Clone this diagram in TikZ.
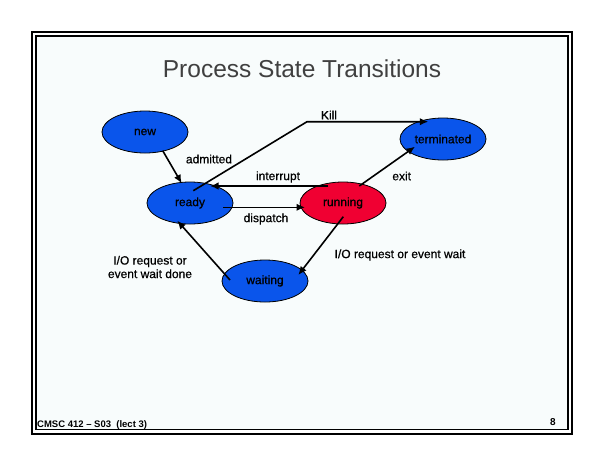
\documentclass[tikz,border=0pt]{standalone}
\usepackage{fontspec}
\setmainfont{Liberation Sans}
\newfontfamily\lblfont[FakeBold=0.6]{Liberation Sans}
\usetikzlibrary{shapes.geometric,arrows.meta}
\definecolor{stblue}{RGB}{10,85,235}
\definecolor{stred}{RGB}{240,0,50}
\definecolor{slidebg}{RGB}{248,252,252}
\definecolor{titlegray}{RGB}{64,64,64}
\begin{document}
\begin{tikzpicture}[x=1pt,y=-1pt,
  state/.style={ellipse,draw=black,line width=0.8pt,minimum width=86pt,minimum height=42pt,inner sep=0pt,text=black,font=\lblfont\fontsize{12}{14}\selectfont},
  arr/.style={line width=1.6pt,-{Latex[length=8.5pt,width=7.5pt]}},
  lbl/.style={font=\lblfont\fontsize{12}{13.5}\selectfont,inner sep=0pt,text=black}]
\useasboundingbox (0,0) rectangle (605,467);
\fill[white] (0,0) rectangle (605,467);
\draw[line width=1.3pt] (32,32) rectangle (572,434);
\draw[line width=1.3pt,fill=slidebg] (36,36) rectangle (568,429.5);
% title
\node[font=\fontsize{24.5}{28}\selectfont,text=titlegray] (title) at (302,69) {Process State Transitions};
% states
\node[state,fill=stblue] (new) at (145,132) {new};
\node[state,fill=stblue] (ready) at (190,203) {ready};
\node[state,fill=stred] (running) at (343,203) {running};
\node[state,fill=stblue] (terminated) at (443,139) {terminated};
\node[state,fill=stblue] (waiting) at (265,281) {waiting};
% transitions
\coordinate (killc) at (307,121.7);
\draw[arr] ([shift={(17.7,18.7)}]new.center) -- ([shift={(-8.3,-19.7)}]ready.center);
\draw[arr] ([shift={(3.3,-12.3)}]ready.center) -- (killc) -- ([shift={(-14.7,-17.3)}]terminated.center);
\draw[arr] ([shift={(-14.7,-17)}]running.center) -- ([shift={(20,-17)}]ready.center);
\draw[arr] ([shift={(33.3,4.3)}]ready.center) -- ([shift={(-38,4.3)}]running.center);
\draw[arr] ([shift={(16.3,-17)}]running.center) -- ([shift={(-28,7.7)}]terminated.center);
\draw[arr] ([shift={(0.3,13.7)}]running.center) -- ([shift={(33.3,-6)}]waiting.center);
\draw[arr] ([shift={(-35,-1)}]waiting.center) -- ([shift={(-12.7,17.7)}]ready.center);
% labels
\node[lbl] (lkill) at (329,115) {Kill};
\node[lbl] (ladm) at (209,159) {admitted};
\node[lbl] (lint) at (278,177) {interrupt};
\node[lbl] (ldisp) at (266,219) {dispatch};
\node[lbl] (lexit) at (401.7,176) {exit};
\node[lbl] (lio) at (400,255) {I/O request or event wait};
\node[lbl,align=center] (lio2) at (150,267) {I/O request or\\event wait done};
% footer
\node[anchor=base west,font=\bfseries\fontsize{9.5}{11}\selectfont,inner sep=0pt] (foot) at (37,427.5) {CMSC 412 – S03\ \ (lect 3)};
\node[anchor=base,font=\bfseries\fontsize{10}{12}\selectfont,inner sep=0pt] (pg) at (553,425) {8};
\end{tikzpicture}
\end{document}
